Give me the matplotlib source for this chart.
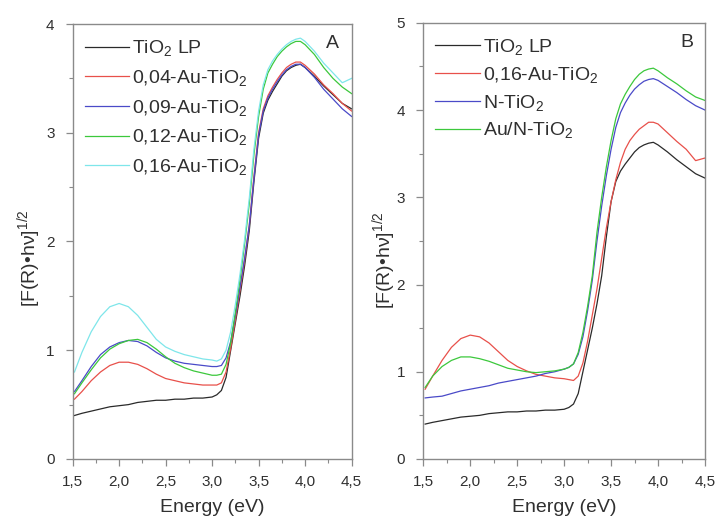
import matplotlib
matplotlib.use("Agg")
import matplotlib.pyplot as plt
from matplotlib.ticker import MultipleLocator, FixedLocator

plt.rcParams['font.family'] = ['Liberation Sans', 'DejaVu Sans']
plt.rcParams['mathtext.fontset'] = 'custom'
plt.rcParams['mathtext.rm'] = 'Liberation Sans'
plt.rcParams['mathtext.it'] = 'Liberation Sans'
plt.rcParams['mathtext.default'] = 'regular'

# ---------------- data ----------------
energy = [1.52, 1.6, 1.7, 1.8, 1.9, 2.0, 2.1, 2.2, 2.3, 2.4, 2.5, 2.6, 2.7, 2.8, 2.9,
          3.0, 3.05, 3.1, 3.15, 3.2, 3.25, 3.3, 3.35, 3.4, 3.45, 3.5, 3.55, 3.6,
          3.65, 3.7, 3.75, 3.8, 3.85, 3.9, 3.95, 4.0, 4.1, 4.2, 4.3, 4.4, 4.5]

tio2_lp = [0.40, 0.42, 0.44, 0.46, 0.48, 0.49, 0.50, 0.52, 0.53, 0.54, 0.54, 0.55, 0.55, 0.56, 0.56,
           0.57, 0.59, 0.63, 0.75, 1.00, 1.25, 1.50, 1.78, 2.10, 2.55, 2.95, 3.18, 3.30,
           3.38, 3.45, 3.52, 3.57, 3.60, 3.62, 3.63, 3.60, 3.52, 3.43, 3.35, 3.27, 3.22]

a_004 = [0.55, 0.62, 0.72, 0.80, 0.86, 0.89, 0.89, 0.87, 0.83, 0.78, 0.74, 0.72, 0.70, 0.69, 0.68,
         0.68, 0.68, 0.70, 0.80, 1.02, 1.28, 1.55, 1.83, 2.15, 2.60, 3.00, 3.22, 3.34,
         3.42, 3.49, 3.55, 3.60, 3.63, 3.65, 3.65, 3.62, 3.54, 3.44, 3.36, 3.27, 3.20]

a_009 = [0.62, 0.72, 0.85, 0.96, 1.03, 1.07, 1.09, 1.08, 1.04, 0.98, 0.93, 0.90, 0.88, 0.87, 0.86,
         0.85, 0.85, 0.86, 0.93, 1.08, 1.32, 1.58, 1.85, 2.15, 2.58, 2.98, 3.20, 3.32,
         3.40, 3.47, 3.53, 3.58, 3.61, 3.63, 3.63, 3.60, 3.51, 3.40, 3.31, 3.22, 3.15]

a_012 = [0.60, 0.70, 0.82, 0.93, 1.01, 1.06, 1.09, 1.10, 1.07, 1.01, 0.94, 0.88, 0.84, 0.81, 0.79,
         0.77, 0.77, 0.78, 0.87, 1.07, 1.35, 1.65, 1.98, 2.35, 2.80, 3.15, 3.40, 3.55,
         3.63, 3.70, 3.75, 3.79, 3.82, 3.84, 3.84, 3.81, 3.72, 3.60, 3.50, 3.42, 3.36]

a_016 = [0.80, 0.98, 1.17, 1.31, 1.40, 1.43, 1.40, 1.32, 1.21, 1.10, 1.03, 0.99, 0.96, 0.94, 0.92,
         0.91, 0.90, 0.92, 1.00, 1.17, 1.42, 1.70, 2.02, 2.40, 2.85, 3.20, 3.44, 3.58,
         3.66, 3.72, 3.77, 3.81, 3.84, 3.86, 3.87, 3.84, 3.75, 3.64, 3.55, 3.46, 3.50]

b_016 = [0.80, 0.95, 1.13, 1.28, 1.38, 1.42, 1.40, 1.33, 1.23, 1.13, 1.06, 1.01, 0.97, 0.95, 0.93,
         0.92, 0.91, 0.90, 0.95, 1.10, 1.35, 1.65, 1.95, 2.30, 2.65, 2.95, 3.20, 3.40,
         3.55, 3.65, 3.72, 3.78, 3.82, 3.86, 3.86, 3.84, 3.74, 3.64, 3.55, 3.42, 3.45]

b_n = [0.70, 0.71, 0.72, 0.75, 0.78, 0.80, 0.82, 0.84, 0.87, 0.89, 0.91, 0.93, 0.95, 0.98, 1.00,
       1.03, 1.05, 1.09, 1.20, 1.40, 1.70, 2.05, 2.50, 2.90, 3.25, 3.55, 3.80, 3.97,
       4.08, 4.17, 4.24, 4.29, 4.33, 4.35, 4.36, 4.34, 4.27, 4.20, 4.12, 4.05, 4.00]

b_aun = [0.82, 0.95, 1.06, 1.13, 1.17, 1.17, 1.15, 1.12, 1.08, 1.04, 1.02, 1.00, 0.99, 1.00, 1.01,
         1.03, 1.05, 1.09, 1.22, 1.45, 1.75, 2.10, 2.60, 3.00, 3.35, 3.65, 3.90, 4.07,
         4.18, 4.27, 4.35, 4.41, 4.45, 4.47, 4.48, 4.45, 4.37, 4.30, 4.22, 4.15, 4.11]

labels_a = ["TiO$_2$ LP", "0,04-Au-TiO$_2$", "0,09-Au-TiO$_2$", "0,12-Au-TiO$_2$", "0,16-Au-TiO$_2$"]
labels_b = ["TiO$_2$ LP", "0,16-Au-TiO$_2$", "N-TiO$_2$", "Au/N-TiO$_2$"]

x_ticks = [1.5, 2.0, 2.5, 3.0, 3.5, 4.0, 4.5]
x_ticklabels = ["1,5", "2,0", "2,5", "3,0", "3,5", "4,0", "4,5"]
ya_ticks = [0, 1, 2, 3, 4]
yb_ticks = [0, 1, 2, 3, 4, 5]

# ---------------- styling ----------------
c_black = "#2a2a2a"
c_red = "#e8504a"
c_blue = "#4a4ac8"
c_green = "#3cc83c"
c_cyan = "#7ee6ea"
gray = "#8a8a8a"
txt = "#303030"

fig = plt.figure(figsize=(7.19, 5.23), dpi=100)
axA = fig.add_axes([0.101, 0.1224, 0.388, 0.8317])
axB = fig.add_axes([0.5887, 0.1224, 0.3918, 0.834])

def style(ax, ymax, yticks, ylab_xy):
    ax.set_xlim(1.5, 4.5)
    ax.set_ylim(0, ymax)
    ax.xaxis.set_major_locator(FixedLocator(x_ticks))
    ax.set_xticklabels(x_ticklabels)
    ax.xaxis.set_minor_locator(MultipleLocator(0.25))
    ax.set_yticks(yticks)
    ax.yaxis.set_minor_locator(MultipleLocator(0.5))
    for s in ax.spines.values():
        s.set_color(gray)
        s.set_linewidth(1.0)
    ax.tick_params(which='major', direction='out', length=5, width=0.9, color=gray,
                   labelsize=11, labelcolor=txt)
    ax.tick_params(axis='x', which='major', pad=6.5)
    ax.tick_params(axis='y', which='major', pad=8)
    ax.tick_params(which='minor', direction='out', length=3, width=0.8, color=gray)
    ax.set_xlabel("Energy (eV)", fontsize=14, color=txt)
    ax.xaxis.set_label_coords(0.5, -0.092)
    ax.set_ylabel("[F(R)•hν]$^{1/2}$", fontsize=14, color=txt)
    ax.yaxis.set_label_coords(*ylab_xy)

lw = 0.9
axA.plot(energy, tio2_lp, color=c_black, lw=lw, label=labels_a[0])
axA.plot(energy, a_004, color=c_red, lw=lw, label=labels_a[1])
axA.plot(energy, a_009, color=c_blue, lw=lw, label=labels_a[2])
axA.plot(energy, a_012, color=c_green, lw=lw, label=labels_a[3])
axA.plot(energy, a_016, color=c_cyan, lw=lw, label=labels_a[4])
style(axA, 4, ya_ticks, (-0.105, 0.462))
axA.legend(loc='upper left', frameon=False, fontsize=14, handlelength=2.3,
           handletextpad=0.15, labelspacing=0.5, borderaxespad=0.0,
           bbox_to_anchor=(0.015, 0.985), labelcolor=txt)
axA.text(0.955, 0.975, "A", transform=axA.transAxes, ha='right', va='top',
         fontsize=14, color=txt)

axB.plot(energy, tio2_lp, color=c_black, lw=lw, label=labels_b[0])
axB.plot(energy, b_016, color=c_red, lw=lw, label=labels_b[1])
axB.plot(energy, b_n, color=c_blue, lw=lw, label=labels_b[2])
axB.plot(energy, b_aun, color=c_green, lw=lw, label=labels_b[3])
style(axB, 5, yb_ticks, (-0.09, 0.456))
axB.legend(loc='upper left', frameon=False, fontsize=14, handlelength=2.3,
           handletextpad=0.15, labelspacing=0.4, borderaxespad=0.0,
           bbox_to_anchor=(0.015, 0.985), labelcolor=txt)
axB.text(0.96, 0.975, "B", transform=axB.transAxes, ha='right', va='top',
         fontsize=14, color=txt)

fig.savefig("out.png", dpi=100)
